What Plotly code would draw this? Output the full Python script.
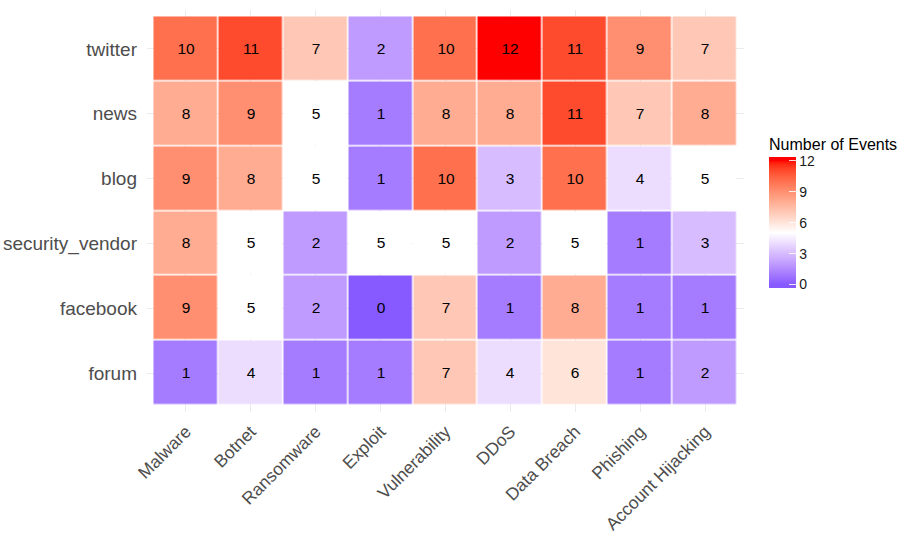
import plotly.graph_objects as go
import numpy as np

categories = ["Malware", "Botnet", "Ransomware", "Exploit", "Vulnerability",
              "DDoS", "Data Breach", "Phishing", "Account Hijacking"]
sources = ["forum", "facebook", "security_vendor", "blog", "news", "twitter"]

forum = [1, 4, 1, 1, 7, 4, 6, 1, 2]
facebook = [9, 5, 2, 0, 7, 1, 8, 1, 1]
security_vendor = [8, 5, 2, 5, 5, 2, 5, 1, 3]
blog = [9, 8, 5, 1, 10, 3, 10, 4, 5]
news = [8, 9, 5, 1, 8, 8, 11, 7, 8]
twitter = [10, 11, 7, 2, 10, 12, 11, 9, 7]

z = [forum, facebook, security_vendor, blog, news, twitter]

# ---- ggplot2-like scale_fill_gradient2 (Lab interpolation) ----
def srgb_to_lin(c):
    c = c / 255.0
    return np.where(c <= 0.04045, c / 12.92, ((c + 0.055) / 1.055) ** 2.4)

def lin_to_srgb(c):
    c = np.clip(c, 0, 1)
    v = np.where(c <= 0.0031308, 12.92 * c, 1.055 * c ** (1 / 2.4) - 0.055)
    return np.clip(np.round(v * 255), 0, 255).astype(int)

M = np.array([[0.4124564, 0.3575761, 0.1804375],
              [0.2126729, 0.7151522, 0.0721750],
              [0.0193339, 0.1191920, 0.9503041]])
Minv = np.linalg.inv(M)
WP = np.array([0.95047, 1.0, 1.08883])

def f(t):
    d = 6 / 29
    return np.where(t > d ** 3, np.cbrt(t), t / (3 * d * d) + 4 / 29)

def finv(t):
    d = 6 / 29
    return np.where(t > d, t ** 3, 3 * d * d * (t - 4 / 29))

def rgb_to_lab(rgb):
    xyz = M @ srgb_to_lin(np.array(rgb, float)) / WP
    fx, fy, fz = f(xyz)
    return np.array([116 * fy - 16, 500 * (fx - fy), 200 * (fy - fz)])

def lab_to_rgb(lab):
    L, a, b = lab
    fy = (L + 16) / 116
    fx = fy + a / 500
    fz = fy - b / 200
    xyz = np.array([finv(fx), finv(fy), finv(fz)]) * WP
    return lin_to_srgb(Minv @ xyz)

low = rgb_to_lab([0, 0, 255])
mid = rgb_to_lab([255, 255, 255])
high = rgb_to_lab([255, 0, 0])

lim_min, lim_max, midpoint = 0, 12, 5
dist = max(abs(lim_min - midpoint), abs(lim_max - midpoint))
# colour bar drawn slightly beyond the limits (as ggplot's bar does)
zmin, zmax = lim_min - 0.35, lim_max + 0.35

stops = sorted(set(np.round(np.linspace(zmin, zmax, 61), 6)) |
               set(np.arange(lim_min, lim_max + 1, 0.5)))
colorscale = []
for v in stops:
    vc = min(max(v, lim_min), lim_max)
    t = (vc - midpoint) / dist / 2 + 0.5
    if t <= 0.5:
        lab = low + (mid - low) * (t / 0.5)
    else:
        lab = mid + (high - mid) * ((t - 0.5) / 0.5)
    r, g, b = lab_to_rgb(lab)
    colorscale.append([min(max((v - zmin) / (zmax - zmin), 0.0), 1.0), f"rgb({r},{g},{b})"])
colorscale[0][0] = 0.0
colorscale[-1][0] = 1.0

FONT = "Liberation Sans, Arial, sans-serif"

fig = go.Figure(go.Heatmap(
    z=z, x=categories, y=sources,
    colorscale=colorscale, zmin=zmin, zmax=zmax,
    xgap=1.5, ygap=1.5,
    texttemplate="%{z}",
    textfont=dict(family=FONT, size=15.5, color="black"),
    colorbar=dict(
        title=dict(text="Number of Events", side="top",
                   font=dict(family=FONT, size=16, color="black")),
        thickness=27, thicknessmode="pixels",
        len=153, lenmode="pixels",
        x=1.042, xanchor="left", xpad=0,
        y=0.308, yanchor="bottom", ypad=0,
        tickvals=[0, 3, 6, 9, 12],
        tickprefix=" ",
        ticks="inside", ticklen=7, tickcolor="rgba(255,255,255,0.85)",
        tickfont=dict(family=FONT, size=14, color="#1a1a1a"),
        outlinewidth=0,
    ),
))

fig.update_layout(
    width=902, height=534,
    margin=dict(l=147, r=158, t=10, b=122, autoexpand=False),
    paper_bgcolor="white", plot_bgcolor="white",
    font=dict(family=FONT),
    xaxis=dict(range=[-0.6, 8.6], tickangle=-45, showgrid=True, gridcolor="#ebebeb",
               gridwidth=1, zeroline=False, ticks="", automargin=False,
               ticklabelstandoff=5,
               tickfont=dict(size=17.5, color="#4d4d4d"), showline=False),
    yaxis=dict(range=[-0.6, 5.6], showgrid=True, gridcolor="#ebebeb", gridwidth=1,
               zeroline=False, ticks="", automargin=False, ticklabelstandoff=9,
               tickfont=dict(size=19, color="#4d4d4d"),
               showline=False),
)

fig.write_html("out.html", config={"displayModeBar": False},
               post_script="document.body.style.margin='0';")
